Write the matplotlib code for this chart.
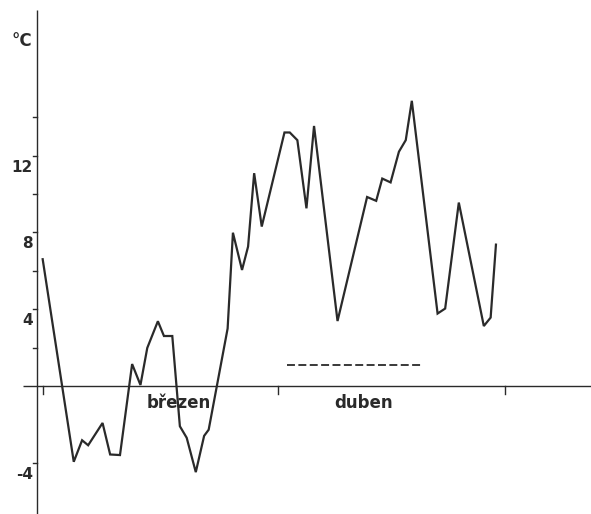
import matplotlib
matplotlib.use("Agg")
import matplotlib.pyplot as plt
import numpy as np

# daily temperature, March 1 = day 0
days = [0, 4.1, 5.2, 6.0, 7.9, 8.9, 10.2, 11.8, 12.9, 13.8, 15.2, 16.0, 17.1,
        18.1, 19.0, 20.2, 21.3, 21.9, 24.4, 25.1, 26.3, 27.1, 27.9, 28.9,
        31.9, 32.6, 33.6, 34.8, 35.8, 38.9, 42.8, 44.0, 44.8, 45.9, 47.0,
        47.9, 48.7, 52.1, 53.1, 54.9, 58.2, 59.1, 59.8]
temps = [6.6, -3.95, -2.83, -3.09, -1.93, -3.57, -3.6, 1.14, 0.05, 1.98, 3.37,
         2.6, 2.6, -2.1, -2.7, -4.49, -2.6, -2.28, 2.99, 7.98, 6.04, 7.26,
         11.08, 8.3, 13.2, 13.2, 12.8, 9.25, 13.54, 3.38, 9.84, 9.64, 10.8,
         10.6, 12.2, 12.8, 14.85, 3.77, 4.03, 9.55, 3.12, 3.56, 7.36]

dash_days = [32.2, 50.2]
dash_temps = [1.1, 1.1]

month_ticks = [0, 31, 61]
month_names = ["březen", "duben"]
month_label_pos = [18.0, 42.3]

y_ticks = [-4, 2, 4, 6, 8, 10, 12, 14]
y_labels = [-4, 4, 8, 12]

ink = "#2a2a2a"

fig = plt.figure(figsize=(5.91, 5.14), dpi=100)
ax = fig.add_axes([0, 0, 1, 1])
ax.set_xlim(-5.63, 72.34)
ax.set_ylim(-6.67, 20.1)
ax.axis("off")

# hand drawn axes
yax = -0.75
ax.plot([yax, yax], [-6.7, 19.6], color=ink, lw=1.0, solid_capstyle="butt")
ax.plot([-2.6, 72.4], [0, 0], color=ink, lw=1.0, solid_capstyle="butt")

for t in y_ticks:
    ax.plot([yax - 0.55, yax], [t, t], color=ink, lw=1.0)
for t in y_labels:
    ax.text(yax - 0.55, t - 0.6, str(t), ha="right", va="center",
            fontsize=11, fontweight="bold", color=ink)
ax.text(yax - 0.6, 17.95, "°C", ha="right", va="center",
        fontsize=12, fontweight="bold", color=ink)

for t in month_ticks:
    ax.plot([t, t], [0, -0.4], color=ink, lw=1.0)
for name, pos in zip(month_names, month_label_pos):
    ax.text(pos, -0.88, name, ha="center", va="center",
            fontsize=12, fontweight="bold", color=ink)

ax.plot(days, temps, color=ink, lw=1.6, solid_joinstyle="miter")
ax.plot(dash_days, dash_temps, color=ink, lw=1.3, dashes=(4.4, 1.9))

fig.savefig("out.png", dpi=100, facecolor="white")
